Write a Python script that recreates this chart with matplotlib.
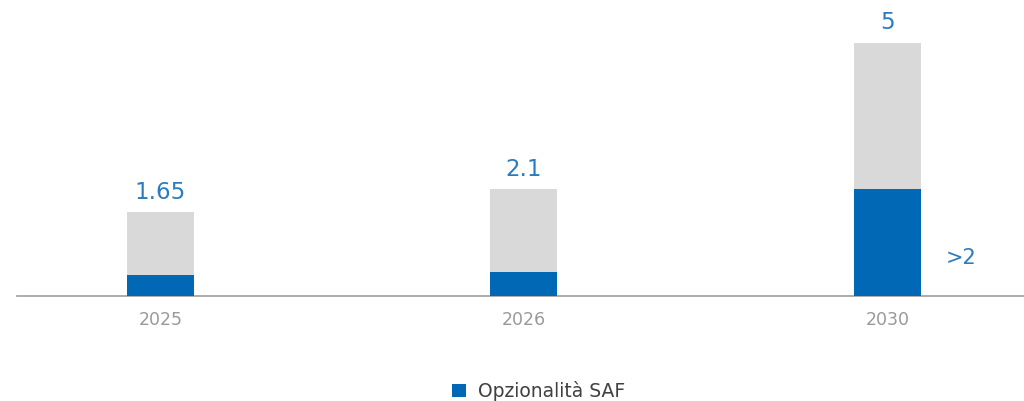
import matplotlib
matplotlib.use("Agg")
import matplotlib.pyplot as plt
import numpy as np

categories = ["2025", "2026", "2030"]
totals = [1.65, 2.1, 5]
saf_values = [0.4, 0.47, 2.1]
total_labels = ["1.65", "2.1", "5"]
saf_note = ">2"
legend_label = "Opzionalità SAF"

plt.rcParams['font.family'] = ['DejaVu Sans']

fig = plt.figure(figsize=(10.24, 4.01), dpi=100)
ax = fig.add_axes([17/1024, 1 - 295.7/401, (1024 - 17)/1024, 295.7/401])

x = np.arange(len(categories))
w = 0.184
grey = "#D9D9D9"
blue = "#0068B4"
label_blue = "#2A7BC0"

ax.bar(x, totals, width=w, color=grey, zorder=2)
ax.bar(x, saf_values, width=w, color=blue, zorder=3, label=legend_label)

for xi, t, lab in zip(x, totals, total_labels):
    ax.annotate(lab, (xi, t), xytext=(0, 6), textcoords="offset points",
                ha="center", va="bottom", fontsize=16.5, color=label_blue)

ax.annotate(saf_note, (x[-1] + w/2, 0), xytext=(18, 20), textcoords="offset points",
            ha="left", va="bottom", fontsize=15, color=label_blue)

ax.set_xlim(-0.394, 2.375)
ax.set_ylim(0, 295.7/50.6)

for s in ["top", "right", "left"]:
    ax.spines[s].set_visible(False)
ax.spines["bottom"].set_color("#A6A6A6")
ax.spines["bottom"].set_linewidth(1.3)
ax.set_yticks([])
ax.set_xticks(x)
ax.set_xticklabels(categories, fontsize=12.5, color="#999999")
ax.tick_params(axis="x", length=0, pad=11)

fig.legend(loc="center", bbox_to_anchor=(0.526, 1 - 391/401), frameon=False,
           fontsize=13.5, labelcolor="#404040", handlelength=0.75, handleheight=0.75,
           handletextpad=0.6)

fig.savefig("out.png", dpi=100)
